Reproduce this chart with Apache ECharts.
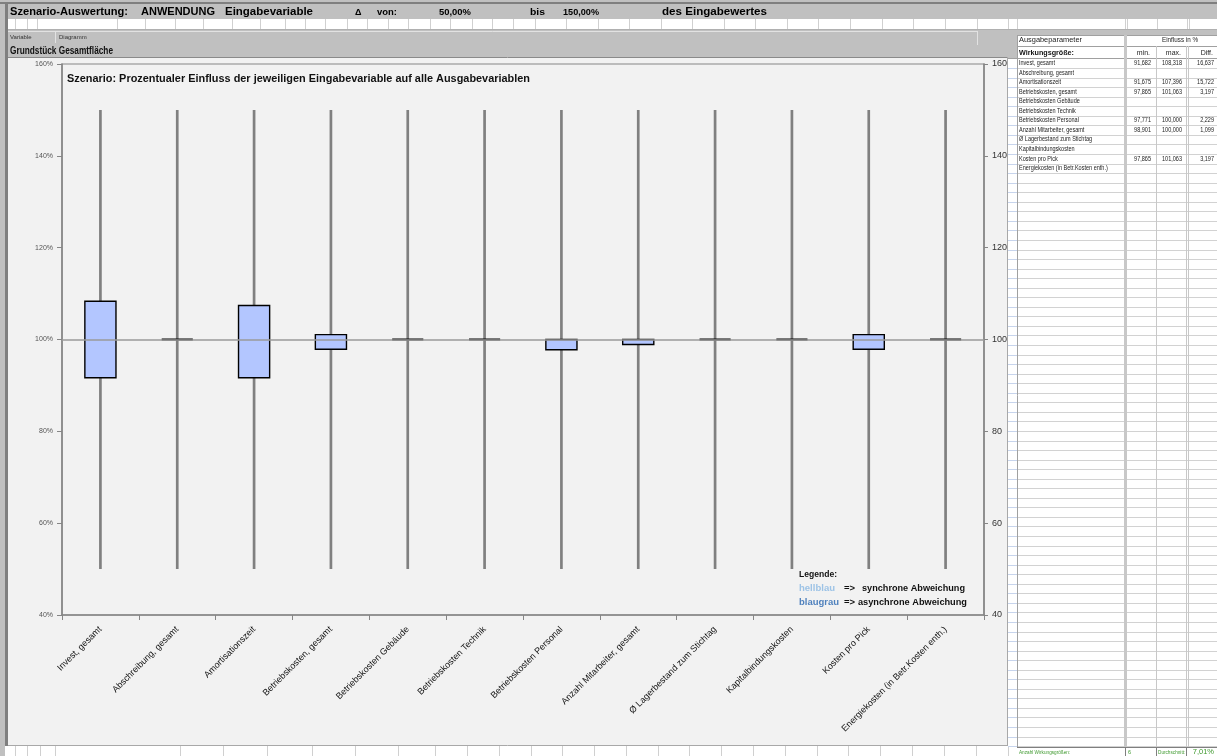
<!DOCTYPE html>
<html>
<head>
<meta charset="utf-8">
<script src="https://cdn.jsdelivr.net/npm/echarts@6/dist/echarts.min.js"></script>
<style>
  html, body { margin: 0; padding: 0; background: #c0c0c0; }
  #chart { width: 1217px; height: 756px; }
</style>
</head>
<body>
<div id="chart"></div>
<script>
// Output parameters (x categories)
const categories = [
  'Invest, gesamt',
  'Abschreibung, gesamt',
  'Amortisationszeit',
  'Betriebskosten, gesamt',
  'Betriebskosten Gebäude',
  'Betriebskosten Technik',
  'Betriebskosten Personal',
  'Anzahl Mitarbeiter, gesamt',
  'Ø Lagerbestand zum Stichtag',
  'Kapitalbindungskosten',
  'Kosten pro Pick',
  'Energiekosten (in Betr.Kosten enth.)'
];
// Influence in % (null = no influence, drawn at 100 %)
const minValues  = [91.682, null, 91.675, 97.865, null, null, 97.771, 98.901, null, null, 97.865, null];
const maxValues  = [108.318, null, 107.396, 101.063, null, null, 100.000, 100.000, null, null, 101.063, null];
const diffValues = [16.637, null, 15.722, 3.197, null, null, 2.229, 1.099, null, null, 3.197, null];
// Variation range of the input variable
const rangeLow = 50;
const rangeHigh = 150;
const baseValue = 100;
// Value axis ticks
const yMin = 40, yMax = 160, yStep = 20;
// Header texts
const inputVariable = 'Grundstück Gesamtfläche';
const rangeFromText = '50,00%';
const rangeToText = '150,00%';

const fmt3 = v => v.toFixed(3).replace('.', ',');
const FONT = 'Liberation Sans';
const measureCtx = document.createElement('canvas').getContext('2d');

function txt(x, y, str, o) {
  o = o || {};
  const size = o.size || 7;
  const weight = o.bold ? 'bold' : 'normal';
  const family = o.family || FONT;
  let sx = o.sx || 1;
  if (o.width) {
    measureCtx.font = weight + ' ' + size + 'px "' + family + '"';
    sx = o.width / measureCtx.measureText(str).width;
  }
  const align = o.align || 'left';
  return {
    type: 'text', x: x, y: y, scaleX: sx, z: 50, silent: true,
    style: {
      text: str, fontSize: size, fontWeight: weight, fontFamily: family,
      fill: o.color || '#000',
      align: align, verticalAlign: 'middle',
      textAlign: align, textVerticalAlign: 'middle'
    }
  };
}
function rect(x, y, w, h, fill, z) {
  return { type: 'rect', silent: true, z: z == null ? -10 : z, shape: { x: x, y: y, width: w, height: h }, style: { fill: fill } };
}
function hline(x1, x2, y, color, lw, z) {
  return { type: 'line', silent: true, z: z == null ? -5 : z, shape: { x1: x1, y1: y, x2: x2, y2: y }, style: { stroke: color, lineWidth: lw || 1 } };
}
function vline(x, y1, y2, color, lw, z) {
  return { type: 'line', silent: true, z: z == null ? -5 : z, shape: { x1: x, y1: y1, x2: x, y2: y2 }, style: { stroke: color, lineWidth: lw || 1 } };
}

// ---- spreadsheet surroundings ----
const g = [];
g.push(hline(0, 1217, 3, '#7f7f7f', 2));
g.push(rect(5, 19, 1212, 10, '#ffffff'));
g.push(hline(5, 1217, 29.5, '#b0b0b0'));
const topCols = [15, 27, 37, 117, 145, 175, 203, 232, 260, 285, 305, 325, 347, 367, 388, 408, 430, 450, 472, 492, 513,
  535, 566, 598, 629, 661, 692, 724, 755, 787, 818, 850, 882, 913, 945, 977, 1008, 1017, 1125, 1127, 1157, 1187, 1189];
topCols.forEach(x => g.push(vline(x + 0.5, 19, 29, '#d0d0d0')));
g.push(rect(5, 3, 3, 743, '#7f7f7f', -4));

// "Variable" / "Diagramm" cells
g.push(hline(8, 977, 31.5, '#e2e2e2'));
g.push(vline(55.5, 31, 43, '#e2e2e2'));
g.push(vline(977.5, 31, 45, '#e2e2e2'));
g.push(txt(10, 37, 'Variable', { size: 6, color: '#333' }));
g.push(txt(59, 37, 'Diagramm', { size: 6, color: '#333' }));
g.push(txt(10, 51, inputVariable, { size: 10, bold: true, width: 103, color: '#111' }));

// chart area
g.push(rect(8, 57, 999, 689, '#f2f2f2'));
g.push(hline(8, 1007, 57.5, '#8a8a8a'));
g.push(hline(8, 1007, 745.5, '#a8a8a8'));
g.push(vline(1007.5, 57, 746, '#a8a8a8'));

// bottom row
g.push(rect(5, 746, 1012, 10, '#ffffff'));
const bottomCols = [15, 27, 40, 55, 180, 223, 267, 312, 355, 398, 435, 467, 499, 531, 562, 594, 626, 658, 689, 721, 753,
  785, 817, 848, 880, 912, 944, 976, 1008];
bottomCols.forEach(x => g.push(vline(x + 0.5, 746, 756, '#d0d0d0')));

// header line texts
g.push(txt(10, 12, 'Szenario-Auswertung:', { size: 11, bold: true, width: 118 }));
g.push(txt(141, 12, 'ANWENDUNG', { size: 11, bold: true, width: 74 }));
g.push(txt(225, 12, 'Eingabevariable', { size: 11, bold: true, width: 88 }));
g.push(txt(355, 12.5, 'Δ', { size: 9, bold: true }));
g.push(txt(377, 12.5, 'von:', { size: 9, bold: true, width: 20 }));
g.push(txt(439, 12.5, rangeFromText, { size: 9, bold: true, width: 32 }));
g.push(txt(530, 12.5, 'bis', { size: 9, bold: true, width: 15 }));
g.push(txt(563, 12.5, rangeToText, { size: 9, bold: true, width: 36 }));
g.push(txt(662, 12, 'des Eingabewertes', { size: 11, bold: true, width: 105 }));

// ---- result table ----
const tL = 1017, tR = 1217;
const rowTop = 58.5, rowH = 9.55;
const nRows = Math.floor((747 - rowTop) / rowH);
g.push(rect(1008, 58, 9, 698, '#ffffff'));
g.push(rect(tL, 35, tR - tL, 721, '#ffffff'));
g.push(hline(tL, tR, 35.5, '#a0a0a0'));
g.push(hline(tL, tR, 46.5, '#a0a0a0'));
g.push(hline(1008, tR, 58.5, '#a0a0a0'));
for (let r = 1; r <= nRows; r++) {
  const y = Math.round(rowTop + r * rowH) + 0.5;
  g.push(hline(tL, tR, y, '#d2d2d2'));
  g.push(hline(1008, tL, y, '#c7d4ec'));
}
g.push(vline(tL + 0.5, 35, 756, '#a0a0a0'));
g.push(vline(1125.5, 35, 756, '#c8c8c8', 3));
g.push(vline(1156.5, 46, 756, '#c8c8c8'));
g.push(vline(1186.5, 46, 756, '#c8c8c8'));
g.push(vline(1188.5, 46, 756, '#c8c8c8'));

g.push(txt(1019, 40.5, 'Ausgabeparameter', { size: 7, width: 63, color: '#222' }));
g.push(txt(1180, 40.5, 'Einfluss in %', { size: 7, width: 36, color: '#222', align: 'center' }));
g.push(txt(1019, 53, 'Wirkungsgröße:', { size: 8, bold: true, width: 55, color: '#111' }));
g.push(txt(1150, 53, 'min.', { size: 7, color: '#222', align: 'right' }));
g.push(txt(1181, 53, 'max.', { size: 7, color: '#222', align: 'right' }));
g.push(txt(1213, 53, 'Diff.', { size: 7, color: '#222', align: 'right' }));

categories.forEach((name, i) => {
  const y = rowTop + (i + 0.5) * rowH;
  g.push(txt(1019, y, name, { size: 6.5, sx: 0.85, color: '#222' }));
  if (minValues[i] != null) {
    g.push(txt(1151, y, fmt3(minValues[i]), { size: 6.5, sx: 0.85, color: '#222', align: 'right' }));
    g.push(txt(1182, y, fmt3(maxValues[i]), { size: 6.5, sx: 0.85, color: '#222', align: 'right' }));
    g.push(txt(1214, y, fmt3(diffValues[i]), { size: 6.5, sx: 0.85, color: '#222', align: 'right' }));
  }
});

// footer: number of affected outputs and mean spread
const affected = diffValues.filter(v => v != null);
const meanDiff = affected.reduce((a, b) => a + b, 0) / affected.length;
g.push(rect(tL, 747, tR - tL, 9, '#ffffff', -3));
g.push(hline(tL, tR, 747.5, '#7f7f7f', 1, -2));
g.push(vline(1125.5, 747, 756, '#7f7f7f', 1, -2));
g.push(vline(1156.5, 747, 756, '#7f7f7f', 1, -2));
g.push(vline(1186.5, 747, 756, '#7f7f7f', 1, -2));
g.push(txt(1019, 752, 'Anzahl Wirkungsgrößen:', { size: 5.5, color: '#3f9a2f', sx: 0.85 }));
g.push(txt(1128, 752, String(affected.length), { size: 5.5, color: '#3f9a2f' }));
g.push(txt(1158, 752, 'Durchschnitt:', { size: 5.5, color: '#3f9a2f', sx: 0.85 }));
g.push(txt(1214, 751.5, meanDiff.toFixed(2).replace('.', ',') + '%', { size: 7.5, color: '#3f9a2f', align: 'right' }));

// ---- chart title & legend ----
g.push(txt(67, 79, 'Szenario: Prozentualer Einfluss der jeweiligen Eingabevariable auf alle Ausgabevariablen',
  { size: 10.5, bold: true, width: 463, color: '#111' }));
g.push(txt(799, 575, 'Legende:', { size: 9, bold: true, width: 38, color: '#111' }));
g.push(txt(799, 589, 'hellblau', { size: 9, bold: true, width: 36, color: '#9dc3e6' }));
g.push(txt(844, 589, '=>', { size: 9, bold: true, width: 11, color: '#111' }));
g.push(txt(862, 589, 'synchrone Abweichung', { size: 9, bold: true, width: 103, color: '#111' }));
g.push(txt(799, 603, 'blaugrau', { size: 9, bold: true, width: 40, color: '#4f81bd' }));
g.push(txt(844, 603, '=>', { size: 9, bold: true, width: 11, color: '#111' }));
g.push(txt(858, 603, 'asynchrone Abweichung', { size: 9, bold: true, width: 109, color: '#111' }));

// ---- range bars: whisker over input range, box over output min..max ----
const rangeData = categories.map((c, i) => [
  i, rangeLow, rangeHigh,
  minValues[i] != null ? minValues[i] : baseValue,
  maxValues[i] != null ? maxValues[i] : baseValue
]);

function renderRange(params, api) {
  const i = api.value(0);
  const lo = api.coord([i, api.value(1)]);
  const hi = api.coord([i, api.value(2)]);
  const bMin = api.coord([i, api.value(3)]);
  const bMax = api.coord([i, api.value(4)]);
  const band = api.size([1, 0])[0];
  const w = band * 0.405;
  const cx = lo[0];
  const children = [{
    type: 'line',
    shape: { x1: cx, y1: lo[1], x2: cx, y2: hi[1] },
    style: { stroke: '#808080', lineWidth: 2.7 }
  }];
  if (api.value(4) - api.value(3) > 0.001) {
    children.push({
      type: 'rect',
      shape: { x: cx - w / 2, y: bMax[1], width: w, height: bMin[1] - bMax[1] },
      style: { fill: '#b3c6ff', stroke: '#000', lineWidth: 1.4 }
    });
  } else {
    children.push({
      type: 'line',
      shape: { x1: cx - w / 2, y1: bMin[1], x2: cx + w / 2, y2: bMin[1] },
      style: { stroke: '#000', lineWidth: 2 }
    });
  }
  return { type: 'group', children: children };
}

const axisGrey = '#868686';
const chart = echarts.init(document.getElementById('chart'), null, { renderer: 'canvas' });
chart.setOption({
  backgroundColor: '#c0c0c0',
  animation: false,
  grid: {
    left: 62, right: 233, top: 64, bottom: 141,
    show: true, borderColor: axisGrey, borderWidth: 1.2, backgroundColor: 'transparent'
  },
  xAxis: {
    type: 'category',
    data: categories,
    axisLine: { lineStyle: { color: axisGrey, width: 1.5 } },
    axisTick: { show: true, length: 5, lineStyle: { color: axisGrey } },
    axisLabel: { interval: 0, rotate: 45, margin: 13, fontSize: 9, fontFamily: FONT, color: '#111' },
    splitLine: { show: false }
  },
  yAxis: [{
    type: 'value', position: 'left', min: yMin, max: yMax, interval: yStep,
    axisLine: { show: true, lineStyle: { color: axisGrey, width: 1.5 } },
    axisTick: { show: true, length: 5, lineStyle: { color: axisGrey } },
    axisLabel: { formatter: '{value}%', fontSize: 7, fontFamily: FONT, color: '#555', margin: 9 },
    splitLine: { show: false }
  }, {
    type: 'value', position: 'right', min: yMin, max: yMax, interval: yStep,
    axisLine: { show: true, lineStyle: { color: axisGrey, width: 1.5 } },
    axisTick: { show: true, length: 4, lineStyle: { color: axisGrey } },
    axisLabel: { formatter: '{value}', fontSize: 9, fontFamily: FONT, color: '#333', margin: 8 },
    splitLine: { show: false }
  }],
  series: [{
    type: 'line', data: [], z: 1, silent: true,
    markLine: {
      silent: true, symbol: 'none', label: { show: false },
      lineStyle: { color: '#9a9a9a', width: 1.5, type: 'solid' },
      data: [{ yAxis: baseValue }]
    }
  }, {
    type: 'custom', z: 3, silent: true,
    renderItem: renderRange,
    encode: { x: 0, y: [1, 2, 3, 4] },
    data: rangeData
  }],
  graphic: { elements: g }
});
</script>
</body>
</html>
